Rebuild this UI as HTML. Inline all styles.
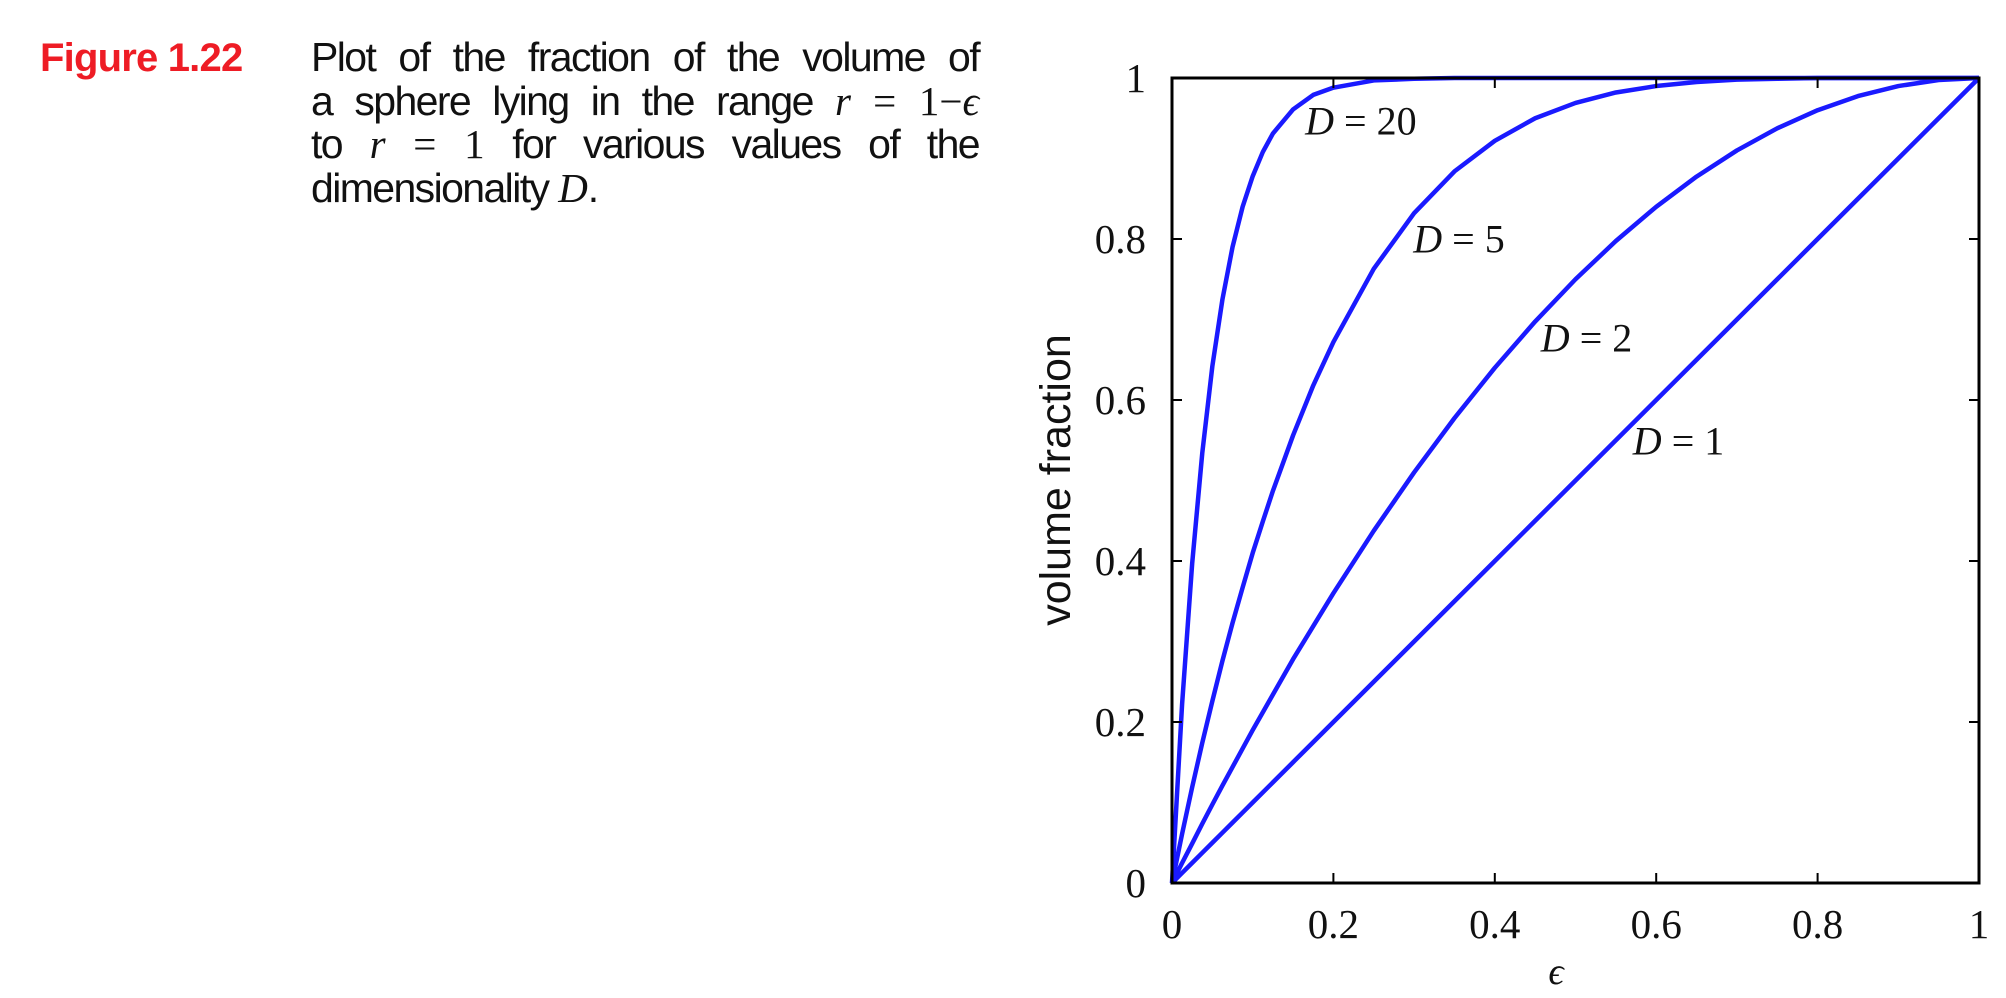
<!DOCTYPE html>
<html><head><meta charset="utf-8"><style>
body{margin:0;background:#fff;width:2006px;height:998px;overflow:hidden;position:relative}
#cap-title{position:absolute;left:40px;top:36px;font:bold 40px "Liberation Sans",sans-serif;color:#ee1c25;letter-spacing:-0.8px}
#cap-body{position:absolute;left:311px;top:36px;width:668px;font:41px/43.5px "Liberation Sans",sans-serif;color:#111;letter-spacing:-1.6px}
#cap-body div{text-align:justify;text-align-last:justify;white-space:nowrap}
#cap-body div.last{text-align-last:left}
.m{font-family:"Liberation Serif",serif;font-style:italic;letter-spacing:0}
.n{font-family:"Liberation Serif",serif;letter-spacing:0}
</style></head><body>
<div id="cap-title">Figure 1.22</div>
<div id="cap-body">
<div>Plot of the fraction of the volume of</div>
<div>a sphere lying in the range <span class="m">r</span> <span class="n">= 1−</span><span class="m">ϵ</span></div>
<div>to <span class="m">r</span> <span class="n">=</span> <span class="n">1</span> for various values of the</div>
<div class="last">dimensionality <span class="m">D</span>.</div>
</div>
<svg id="chart" width="2006" height="998" style="position:absolute;left:0;top:0"></svg>
<script>
const xTicks=[0,0.2,0.4,0.6,0.8,1];
const xTickLabels=["0","0.2","0.4","0.6","0.8","1"];
const yTicks=[0,0.2,0.4,0.6,0.8,1];
const yTickLabels=["0","0.2","0.4","0.6","0.8","1"];
const eps=[0,.0125,.025,.0375,.05,.0625,.075,.0875,.1,.1125,.125,.15,.175,.2,.25,.3,.35,.4,.45,.5,.55,.6,.65,.7,.75,.8,.85,.9,.95,1];
const seriesD20=[0,.222,.397,.534,.642,.725,.790,.840,.878,.908,.931,.961,.979,.988,.997,.999,1,1,1,1,1,1,1,1,1,1,1,1,1,1];
const seriesD5=[0,.061,.119,.174,.226,.276,.323,.367,.410,.449,.487,.556,.618,.672,.763,.832,.884,.922,.950,.969,.982,.990,.995,.998,.999,1,1,1,1,1];
const seriesD2=[0,.0248,.049,.0736,.0975,.121,.144,.167,.19,.212,.234,.278,.319,.36,.4375,.51,.5775,.64,.6975,.75,.7975,.84,.8775,.91,.9375,.96,.9775,.99,.9975,1];
const seriesD1=[0,.0125,.025,.0375,.05,.0625,.075,.0875,.1,.1125,.125,.15,.175,.2,.25,.3,.35,.4,.45,.5,.55,.6,.65,.7,.75,.8,.85,.9,.95,1];
const seriesLabels=["20","5","2","1"];
const labelPosX=[0.165,0.299,0.457,0.571];
const labelPosY=[0.930,0.783,0.660,0.532];

const L=1172,R=1979,T=78,B=883;
const sx=v=>L+(R-L)*v, sy=v=>B-(B-T)*v;
const svg=document.getElementById('chart');
const NS='http://www.w3.org/2000/svg';
function mk(t,a){const e=document.createElementNS(NS,t);for(const k in a)e.setAttribute(k,a[k]);svg.appendChild(e);return e;}

const series=[seriesD20,seriesD5,seriesD2,seriesD1];
const names=['curve-d20','curve-d5','curve-d2','curve-d1'];
series.forEach((s,i)=>{
  const p=mk('polyline',{points:eps.map((e,j)=>sx(e)+','+sy(s[j])).join(' '),fill:'none',stroke:'#1a1aff','stroke-width':4.5,'stroke-linejoin':'round'});
  
  
  const t=mk('text',{x:sx(labelPosX[i]),y:sy(labelPosY[i]),'font-family':'Liberation Serif, serif','font-size':40,fill:'#111','xml:space':'preserve'});
  t.innerHTML='<tspan font-style="italic">D</tspan><tspan dx="10">=</tspan><tspan dx="10">'+seriesLabels[i]+'</tspan>';
  
  
});
const frame=mk('rect',{x:L,y:T,width:R-L,height:B-T,fill:'none',stroke:'#000','stroke-width':3});


xTicks.forEach((v,i)=>{
  const x=sx(v);
  const tk=mk('path',{d:`M${x},${B}v-10M${x},${T}v10`,stroke:'#000','stroke-width':2});
  
  
  const t=mk('text',{x:x,y:938,'text-anchor':'middle','font-family':'Liberation Serif, serif','font-size':41,fill:'#111'});
  t.textContent=xTickLabels[i];
  
  
});
yTicks.forEach((v,i)=>{
  const y=sy(v);
  const tk=mk('path',{d:`M${L},${y}h10M${R},${y}h-10`,stroke:'#000','stroke-width':2});
  
  
  const t=mk('text',{x:1146,y:y+14,'text-anchor':'end','font-family':'Liberation Serif, serif','font-size':41,fill:'#111'});
  t.textContent=yTickLabels[i];
  
  
});
const xl=mk('text',{x:1556,y:984,'text-anchor':'middle','font-family':'Liberation Serif, serif','font-style':'italic','font-size':38,fill:'#111'});
xl.textContent='ϵ';


const yl=mk('text',{x:0,y:0,'text-anchor':'middle','font-family':'Liberation Sans, sans-serif','font-size':43,fill:'#111',transform:'translate(1070,480) rotate(-90)'});
yl.textContent='volume fraction';


</script>
</body></html>
